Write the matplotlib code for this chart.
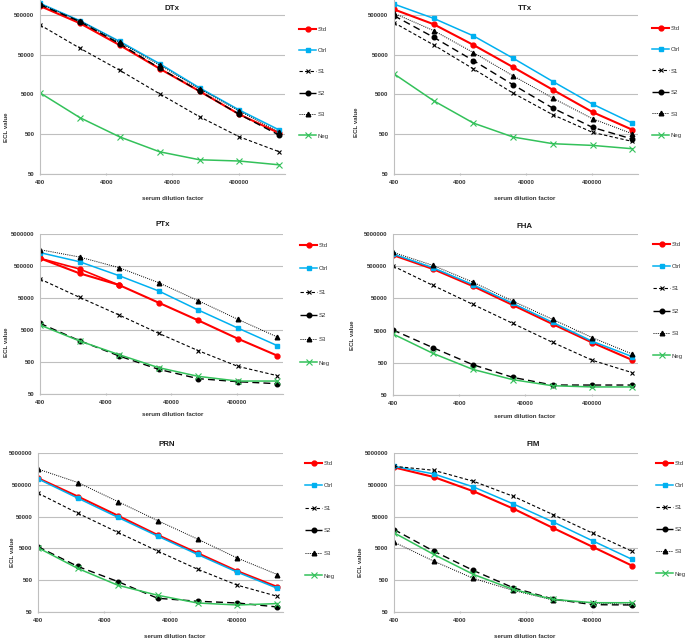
# encoding: UTF-8
import matplotlib
matplotlib.use("Agg")
import matplotlib.pyplot as plt
from matplotlib.ticker import FixedLocator, NullLocator, FixedFormatter

plt.rcParams['font.family'] = ['Liberation Sans', 'DejaVu Sans']

# 稀释倍数
dilution = [400, 1600, 6400, 25600, 102400, 409600, 1638400]
series_names = ['Std', 'Ctrl', 'S1', 'S2', 'S3', 'Neg']

# DTx
dtx_std = [840000, 310000, 87000, 22300, 6050, 1580, 530]
dtx_ctrl = [980000, 360000, 108000, 29800, 7350, 2030, 640]
dtx_s1 = [281000, 73000, 20300, 5200, 1380, 430, 181]
dtx_s2 = [906000, 340000, 94000, 23000, 6050, 1580, 472]
dtx_s3 = [940000, 354000, 102000, 27500, 6900, 1915, 571]
dtx_neg = [5500, 1306, 428, 181, 114, 106, 85]

# TTx
ttx_std = [690000, 292000, 88000, 24300, 6550, 1800, 650]
ttx_ctrl = [940000, 410000, 149000, 40800, 10600, 2860, 953]
ttx_s1 = [320000, 88000, 22000, 5400, 1545, 556, 330]
ttx_s2 = [480000, 137000, 35600, 8750, 2270, 743, 378]
ttx_s3 = [550000, 202000, 56600, 14700, 4050, 1225, 514]
ttx_neg = [16500, 3470, 953, 425, 289, 262, 216]

# PTx
ptx_std = [870000, 295000, 127000, 35700, 10000, 2680, 789]
ptx_std_alt = [870000, 403000, 127000]
ptx_ctrl = [1310000, 680000, 249000, 83000, 21100, 5770, 1620]
ptx_s1 = [196000, 52500, 14700, 3940, 1130, 366, 187]
ptx_s2 = [8070, 2320, 771, 295, 151, 121, 105]
ptx_s3 = [1620000, 955000, 443000, 151000, 41300, 10800, 3020]
ptx_neg = [7160, 2270, 847, 333, 178, 127, 127]

# FHA
fha_std = [1110000, 410000, 121000, 31200, 8020, 2110, 611]
fha_ctrl = [1200000, 450000, 134000, 35200, 9040, 2320, 776]
fha_s1 = [507000, 127000, 32700, 8410, 2160, 597, 247]
fha_s2 = [5220, 1480, 438, 177, 102, 102, 102]
fha_s3 = [1350000, 530000, 161000, 41500, 11200, 3010, 938]
fha_neg = [3920, 984, 313, 150, 97, 89, 89]

# PRN
prn_std = [810000, 214000, 53800, 13200, 3560, 962, 308]
prn_ctrl = [770000, 190000, 47600, 12200, 3230, 893, 279]
prn_s1 = [273000, 63700, 16000, 4120, 1110, 348, 156]
prn_s2 = [5650, 1350, 454, 135, 109, 96, 72]
prn_s3 = [1560000, 590000, 149000, 37400, 9860, 2480, 755]
prn_neg = [5250, 1170, 348, 168, 96, 83, 92]

# FIM
fim_std = [1770000, 880000, 313000, 89500, 22100, 5610, 1420]
fim_ctrl = [1910000, 1100000, 428000, 126000, 34200, 8670, 2250]
fim_s1 = [1910000, 1430000, 645000, 218000, 58100, 15100, 4010]
fim_s2 = [19600, 4100, 1010, 290, 128, 85, 83]
fim_s3 = [7870, 1990, 569, 239, 119, 96, 87]
fim_neg = [15500, 3230, 760, 257, 125, 98, 98]

x_ticks = [400, 4000, 40000, 400000]
y_ticks = [50, 500, 5000, 50000, 500000, 5000000]

panels = [
    ('DTx', [dtx_std, dtx_ctrl, dtx_s1, dtx_s2, dtx_s3, dtx_neg]),
    ('TTx', [ttx_std, ttx_ctrl, ttx_s1, ttx_s2, ttx_s3, ttx_neg]),
    ('PTx', [ptx_std, ptx_ctrl, ptx_s1, ptx_s2, ptx_s3, ptx_neg]),
    ('FHA', [fha_std, fha_ctrl, fha_s1, fha_s2, fha_s3, fha_neg]),
    ('PRN', [prn_std, prn_ctrl, prn_s1, prn_s2, prn_s3, prn_neg]),
    ('FIM', [fim_std, fim_ctrl, fim_s1, fim_s2, fim_s3, fim_neg]),
]

styles = {
    'Std': dict(color='#FF0000', lw=1.5, ls='-', marker='o', ms=3.5, mec='#FF0000', mfc='#FF0000'),
    'Ctrl': dict(color='#00B0F0', lw=1.1, ls='-', marker='s', ms=3.5, mec='#00B0F0', mfc='#00B0F0'),
    'S1': dict(color='black', lw=0.8, ls=(0, (3, 2)), marker='x', ms=3.3, mew=0.8),
    'S2': dict(color='black', lw=1.0, ls=(0, (5, 3)), marker='o', ms=3.3, mec='black', mfc='black'),
    'S3': dict(color='black', lw=0.7, ls=(0, (1, 1.2)), marker='^', ms=3.3, mec='black', mfc='black'),
    'Neg': dict(color='#33C15A', lw=1.1, ls='-', marker='x', ms=3.8, mew=0.8),
}

W, H = 685, 640
# 像素位置: left, top, right, bottom, y上限
layout = [
    (40, 0, 285, 174, 1.19e6),
    (394, 0, 638, 174, 1.19e6),
    (40, 234, 283, 394, 5e6),
    (393, 234, 638, 395, 5e6),
    (38, 453, 283, 612, 5e6),
    (394, 453, 638, 612, 5e6),
]
# 图例: 起点x, 第一行y, 行距
legend_pos = [(299, 30, 23.4), (652, 29, 23.5), (300, 246, 25.6),
              (653, 245, 24.4), (305, 464, 24.6), (656, 464, 24.2)]
title_pos = [(172, 8), (525, 8), (163, 225), (525, 226), (167, 444), (533, 445)]
xlabel_pos = [(173, 198), (525, 198), (173, 415), (525, 417), (175, 637), (525, 636)]
ylabel_pos = [(6, 127), (356, 122), (6, 342), (352, 335), (13, 552), (360, 562)]

fig = plt.figure(figsize=(6.85, 6.4), dpi=100)
grid_c = '#BFBFBF'
txt_c = '#333333'
fs = 4.3

for i, (name, data) in enumerate(panels):
    l, t, r, b, ytop = layout[i]
    ax = fig.add_axes([l / W, 1 - b / H, (r - l) / W, (b - t) / H])
    ax.set_xscale('log')
    ax.set_yscale('log')
    for sname, vals in zip(series_names, data):
        ax.plot(dilution, vals, label=sname, **styles[sname])
    if name == 'PTx':
        ax.plot(dilution[:3], ptx_std_alt, color='#FF0000', lw=1.2,
                marker='o', ms=3.5, zorder=1.9)
    ax.set_xlim(400, 2.0e6)
    ax.set_ylim(50, ytop)
    ax.xaxis.set_major_locator(FixedLocator(x_ticks))
    ax.xaxis.set_major_formatter(FixedFormatter([str(v) for v in x_ticks]))
    ax.xaxis.set_minor_locator(NullLocator())
    yt = [v for v in y_ticks if v <= ytop]
    ax.yaxis.set_major_locator(FixedLocator(yt))
    ax.yaxis.set_major_formatter(FixedFormatter([str(v) for v in yt]))
    ax.yaxis.set_minor_locator(NullLocator())
    ax.grid(axis='y', color=grid_c, lw=0.8)
    ax.set_axisbelow(True)
    for s in ['top', 'right']:
        ax.spines[s].set_visible(False)
    for s in ['left', 'bottom']:
        ax.spines[s].set_color(grid_c)
        ax.spines[s].set_linewidth(0.8)
    ax.tick_params(axis='x', length=2, color=grid_c, width=0.8, direction='inout',
                   labelsize=fs, pad=3)
    ax.tick_params(axis='y', length=0, labelsize=fs, pad=4)
    for lab in ax.get_xticklabels() + ax.get_yticklabels():
        lab.set_fontweight('bold')
        lab.set_color(txt_c)

    tx, ty = title_pos[i]
    fig.text(tx / W, 1 - ty / H, name, ha='center', va='center',
             fontsize=5.7, fontweight='bold', color='#1a1a1a')
    xx, xy = xlabel_pos[i]
    fig.text(xx / W, 1 - xy / H, 'serum dilution factor', ha='center', va='center',
             fontsize=4.4, fontweight='bold', color=txt_c)
    yx, yy = ylabel_pos[i]
    fig.text(yx / W, 1 - yy / H, 'ECL value', ha='center', va='center', rotation=90,
             fontsize=4.4, fontweight='bold', color=txt_c)

    lx, ly, pitch = legend_pos[i]
    row_h = fs * 1.39 * 1.2
    lsp = (pitch - row_h) / (fs * 1.39)
    ax.legend(loc='upper left', bbox_to_anchor=(lx / W, 1 - (ly - row_h / 2) / H),
              bbox_transform=fig.transFigure, frameon=False, fontsize=fs,
              handlelength=2.9, handletextpad=0.2, labelspacing=lsp, borderpad=0,
              borderaxespad=0, labelcolor=txt_c)

fig.savefig('out.png', dpi=100)
